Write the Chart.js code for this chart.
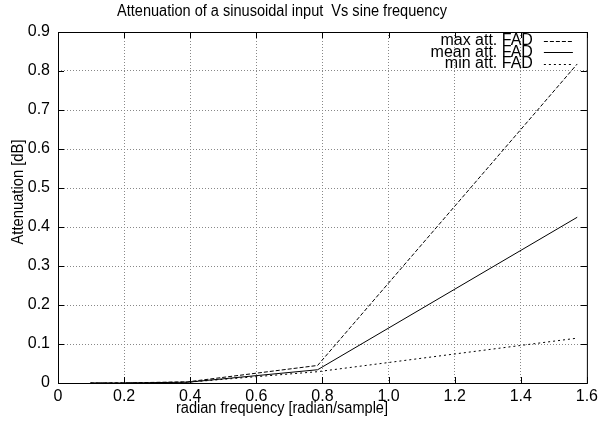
<!DOCTYPE html>
<html>
<head>
<meta charset="utf-8">
<script src="https://cdn.jsdelivr.net/npm/chart.js@4/dist/chart.umd.min.js"></script>
<style>
  html, body { margin: 0; padding: 0; background: #fff; }
  #wrap { width: 602px; height: 426px; }
</style>
</head>
<body>
<div id="wrap"><canvas id="att-chart" width="602" height="426"></canvas></div>
<script>
// Data
const freqs = [0.0982, 0.1963, 0.3927, 0.7854, 1.5708];
const maxAtt = [0.0000, 0.0002, 0.003, 0.045, 0.818];
const meanAtt = [0.0000, 0.0001, 0.002, 0.034, 0.425];
const minAtt = [0.0000, 0.0001, 0.002, 0.029, 0.115];
const seriesLabels = ['max att. FAD', 'mean att. FAD', 'min att. FAD'];
const seriesDash = [[4, 2], [], [2, 3]];

const chartTitle = 'Attenuation of a sinusoidal input  Vs sine frequency';
const xTitle = 'radian frequency [radian/sample]';
const yTitle = 'Attenuation [dB]';

const FONT = '"Liberation Sans", Arial, Helvetica, sans-serif';
const TEXT_SIZE = 16;

function toPoints(ys) {
    return freqs.map((x, i) => ({ x: x, y: ys[i] }));
}

const datasets = [maxAtt, meanAtt, minAtt].map((ys, i) => ({
    label: seriesLabels[i],
    data: toPoints(ys),
    borderColor: '#000',
    borderWidth: 1,
    borderDash: seriesDash[i],
    pointRadius: 0,
    tension: 0,
    fill: false
}));

// hide grid lines that sit on the frame
function gridColor(max) {
    return ctx => (ctx.tick && (ctx.tick.value === 0 || Math.abs(ctx.tick.value - max) < 1e-6)) ? 'rgba(0,0,0,0)' : '#888';
}

// the titles in the original use a slightly narrower face: squeeze to width
function narrowText(ctx, text, x, y, width, angle) {
    const sx = Math.min(1, width / ctx.measureText(text).width);
    ctx.save();
    ctx.translate(x, y);
    if (angle) ctx.rotate(angle);
    ctx.scale(sx, 1);
    ctx.fillText(text, 0, 0);
    ctx.restore();
}

// frame, inward tick marks, titles and gnuplot-style legend
const gnuplotDecor = {
    id: 'gnuplotDecor',
    afterDatasetsDraw(chart) {
        const { ctx, chartArea: a, scales } = chart;
        ctx.save();
        ctx.strokeStyle = '#000';
        ctx.lineWidth = 1;
        ctx.setLineDash([]);
        ctx.strokeRect(a.left + 0.5, a.top + 0.5, a.right - a.left, a.bottom - a.top);

        const tl = 6;
        ctx.beginPath();
        scales.x.ticks.forEach(t => {
            const px = Math.round(scales.x.getPixelForValue(t.value)) + 0.5;
            ctx.moveTo(px, a.bottom); ctx.lineTo(px, a.bottom - tl);
            ctx.moveTo(px, a.top); ctx.lineTo(px, a.top + tl);
        });
        scales.y.ticks.forEach(t => {
            const py = Math.round(scales.y.getPixelForValue(t.value)) + 0.5;
            ctx.moveTo(a.left, py); ctx.lineTo(a.left + tl, py);
            ctx.moveTo(a.right, py); ctx.lineTo(a.right - tl, py);
        });
        ctx.stroke();

        ctx.fillStyle = '#000';
        ctx.font = TEXT_SIZE + 'px ' + FONT;
        ctx.textBaseline = 'middle';
        ctx.textAlign = 'center';
        narrowText(ctx, chartTitle, 282, 12, 330);
        narrowText(ctx, xTitle, 282, 409, 212);
        narrowText(ctx, yTitle, 19, 192, 105, -Math.PI / 2);

        // legend
        ctx.textAlign = 'right';
        chart.data.datasets.forEach((ds, i) => {
            const y = a.top + 8.5 + i * 11.7;
            ctx.fillText(ds.label, a.right - 54, y);
            ctx.beginPath();
            ctx.setLineDash(ds.borderDash);
            ctx.moveTo(a.right - 43, Math.round(y) + 0.5);
            ctx.lineTo(a.right - 14, Math.round(y) + 0.5);
            ctx.stroke();
        });
        ctx.restore();
    }
};

new Chart(document.getElementById('att-chart'), {
    type: 'line',
    data: { datasets: datasets },
    options: {
        responsive: false,
        animation: false,
        layout: { padding: { top: 32, right: 12, left: 0, bottom: 0 } },
        plugins: {
            legend: { display: false },
            title: { display: false },
            tooltip: { enabled: false }
        },
        scales: {
            x: {
                type: 'linear',
                min: 0,
                max: 1.6,
                ticks: {
                    stepSize: 0.2,
                    color: '#000',
                    padding: 4,
                    maxRotation: 0,
                    font: { family: FONT, size: TEXT_SIZE }
                },
                border: { display: false, dash: [1, 2] },
                grid: { drawTicks: false, color: gridColor(1.6), lineWidth: 1 },
                afterFit(scale) { scale.height = 43; }
            },
            y: {
                type: 'linear',
                min: 0,
                max: 0.9,
                ticks: {
                    stepSize: 0.1,
                    color: '#000',
                    padding: 8,
                    font: { family: FONT, size: TEXT_SIZE }
                },
                border: { display: false, dash: [1, 2] },
                grid: { drawTicks: false, color: gridColor(0.9), lineWidth: 1 },
                afterFit(scale) { scale.width = 58; }
            }
        }
    },
    plugins: [gnuplotDecor]
});
</script>
</body>
</html>
